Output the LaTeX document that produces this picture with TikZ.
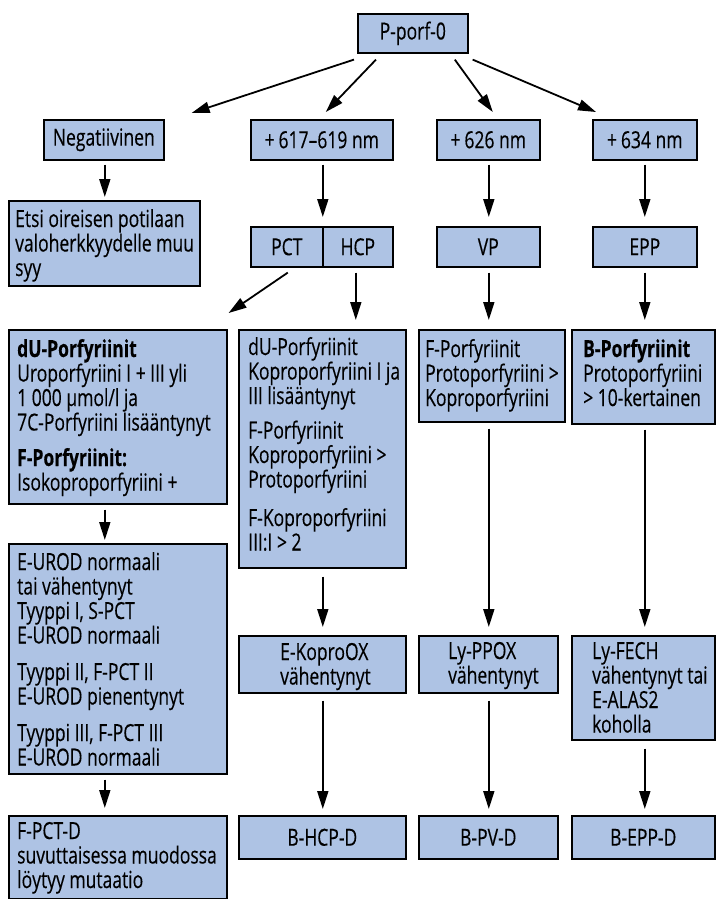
\documentclass[tikz,border=0pt]{standalone}
\usepackage{fontspec}
\setmainfont{Open Sans}[FakeStretch=0.745, FakeBold=0.3]
\usetikzlibrary{arrows.meta,calc}
\definecolor{boxblue}{RGB}{174,195,228}
\newcommand\fs{\fontsize{23.5}{24.5}\selectfont}
\newcommand\Lrow[1]{\hbox{#1}}
\newcommand\Lgap[1]{\vskip#1pt}
\tikzset{
  box/.style={draw=black, line width=1.6pt, fill=boxblue, inner sep=0pt, anchor=north west, font=\fs},
  txt/.style={inner sep=0pt, anchor=base west, font=\fs},
  arr/.style={line width=1.8pt, -{Triangle[length=18pt,width=11pt]}},
}
\begin{document}
\begin{tikzpicture}[x=1pt,y=-1pt]
\useasboundingbox (0,0) rectangle (715,899);
% row 1-3
\node[box, minimum width=110pt, minimum height=39pt] (p0) at (357,13) {P-porf-0};
\node[box, minimum width=120pt, minimum height=40pt] (neg) at (43,119) {Negatiivinen};
\node[box, minimum width=142pt, minimum height=40pt] (n617) at (250,119) {+\,617–619 nm};
\node[box, minimum width=103pt, minimum height=40pt] (n626) at (436,119) {+\,626 nm};
\node[box, minimum width=104pt, minimum height=40pt] (n634) at (592,119) {+\,634 nm};
\node[box, minimum width=191pt, minimum height=85pt] (etsi) at (8,200) {};
\node[txt] (etsit) at (15,227) {\vtop{\Lrow{Etsi oireisen potilaan}\Lrow{valoherkkyydelle muu}\Lrow{syy}}};
\node[box, minimum width=72pt, minimum height=40pt] (pct) at (250,226) {PCT};
\node[box, minimum width=70pt, minimum height=40pt] (hcp) at (322,226) {HCP};
\node[box, minimum width=103pt, minimum height=40pt] (vp) at (436,226) {VP};
\node[box, minimum width=104pt, minimum height=40pt] (epp) at (592,226) {EPP};
% row 4
\node[box, minimum width=218pt, minimum height=174pt] (du1) at (8,329) {};
\node[txt] (du1t) at (17,357) {\vtop{\Lrow{\textbf{dU-Porfyriinit}}\Lrow{Uroporfyriini I + III yli}\Lrow{1 000 μmol/l ja}\Lrow{7C-Porfyriini lisääntynyt}\Lgap{11}\Lrow{\textbf{F-Porfyriinit:}}\Lrow{Isokoproporfyriini +}}};
\node[box, minimum width=167pt, minimum height=238pt] (du2) at (238,329) {};
\node[txt] (du2t) at (248,355) {\vtop{\Lrow{dU-Porfyriinit}\Lrow{Koproporfyriini I ja}\Lrow{III lisääntynyt}\Lgap{10}\Lrow{F-Porfyriinit}\Lrow{Koproporfyriini >}\Lrow{Protoporfyriini}\Lgap{14}\Lrow{F-Koproporfyriini}\Lrow{III:I > 2}}};
\node[box, minimum width=146pt, minimum height=92pt] (fp) at (418,329) {};
\node[txt] (fpt) at (425,357) {\vtop{\Lrow{F-Porfyriinit}\Lrow{Protoporfyriini >}\Lrow{Koproporfyriini}}};
\node[box, minimum width=143pt, minimum height=94pt] (bp) at (571,329) {};
\node[txt] (bpt) at (583,357) {\vtop{\Lrow{\textbf{B-Porfyriinit}}\Lrow{Protoporfyriini}\Lrow{> 10-kertainen}}};
% row 5
\node[box, minimum width=218pt, minimum height=230pt] (urod) at (8,543) {};
\node[txt] (urodt) at (17,570) {\vtop{\Lrow{E-UROD normaali}\Lrow{tai vähentynyt}\Lrow{Tyyppi I, S-PCT}\Lrow{E-UROD normaali}\Lgap{12}\Lrow{Tyyppi II, F-PCT II}\Lrow{E-UROD pienentynyt}\Lgap{12}\Lrow{Tyyppi III, F-PCT III}\Lrow{E-UROD normaali}}};
\node[box, minimum width=167pt, minimum height=57pt] (ekopro) at (238,635) {};
\node[txt] (ekoprot) at (280,660) {\vtop{\Lrow{E-KoproOX}\Lrow{vähentynyt}}};
\node[box, minimum width=139pt, minimum height=57pt] (lyppox) at (418,635) {};
\node[txt] (lyppoxt) at (448,659) {\vtop{\Lrow{Ly-PPOX}\Lrow{vähentynyt}}};
\node[box, minimum width=143pt, minimum height=104pt] (lyfech) at (571,635) {};
\node[txt] (lyfecht) at (592,659) {\vtop{\Lrow{Ly-FECH}\Lrow{vähentynyt tai}\Lrow{E-ALAS2}\Lrow{koholla}}};
% row 6
\node[box, minimum width=218pt, minimum height=83pt] (fpctd) at (8,815) {};
\node[txt] (fpctdt) at (17,839) {\vtop{\Lrow{F-PCT-D}\Lrow{suvuttaisessa muodossa}\Lrow{löytyy mutaatio}}};
\node[box, minimum width=167pt, minimum height=43pt] (bhcpd) at (238,815) {B-HCP-D};
\node[box, minimum width=139pt, minimum height=43pt] (bpvd) at (418,815) {B-PV-D};
\node[box, minimum width=143pt, minimum height=43pt] (beppd) at (571,815) {B-EPP-D};
% arrows from top
\draw[arr] ($(p0.south west)+(-3,6)$) -- ($(neg.north east)+(27,-6)$);
\draw[arr] ($(p0.south west)+(19,6)$) -- ($(n617.north)+(4,-7)$);
\draw[arr] ($(p0.south)+(42,6)$) -- ($(n626.north)+(4.5,-7)$);
\draw[arr] ($(p0.south east)+(4,6)$) -- ($(n634.north west)+(4,-7)$);
% verticals
\draw[arr] ($(neg.south)+(1,4)$) -- ($(neg.south |- etsi.north)+(1,-3)$);
\draw[arr] ($(n617.south)+(1,4)$) -- ($(n617.south |- pct.north)+(1,-9)$);
\draw[arr] ($(n626.south)+(0.5,4)$) -- ($(n626.south |- vp.north)+(0.5,-9)$);
\draw[arr] ($(n634.south)+(0,4)$) -- ($(n634.south |- epp.north)+(0,-9)$);
\draw[arr] ($(pct.south)+(1,5)$) -- ($(du1.north east)+(1,-16)$);
\draw[arr] ($(hcp.south)+(-2,5)$) -- ($(hcp.south |- du2.north)+(-2,-9)$);
\draw[arr] ($(vp.south)+(0.5,5)$) -- ($(vp.south |- fp.north)+(0.5,-9)$);
\draw[arr] ($(epp.south)+(0,5)$) -- ($(epp.south |- bp.north)+(0,-9)$);
\draw[arr] ($(du1.south)+(-13,5)$) -- ($(du1.south |- urod.north)+(-13,-3)$);
\draw[arr] ($(urod.south)+(-13,5)$) -- ($(urod.south |- fpctd.north)+(-13,-7)$);
\draw[arr] ($(du2.south)+(0.5,8)$) -- ($(du2.south |- ekopro.north)+(0.5,-8)$);
\draw[arr] ($(ekopro.south)+(0.5,7)$) -- ($(ekopro.south |- bhcpd.north)+(0.5,-6)$);
\draw[arr] ($(lyppox.north |- fp.south)+(0.5,6)$) -- ($(lyppox.north)+(0.5,-8)$);
\draw[arr] ($(lyppox.south)+(0.5,7)$) -- ($(lyppox.south |- bpvd.north)+(0.5,-6)$);
\draw[arr] ($(bp.south)+(1.5,5)$) -- ($(bp.south |- lyfech.north)+(1.5,-8)$);
\draw[arr] ($(lyfech.south)+(1.5,8)$) -- ($(lyfech.south |- beppd.north)+(1.5,-6)$);
\end{tikzpicture}
\end{document}
